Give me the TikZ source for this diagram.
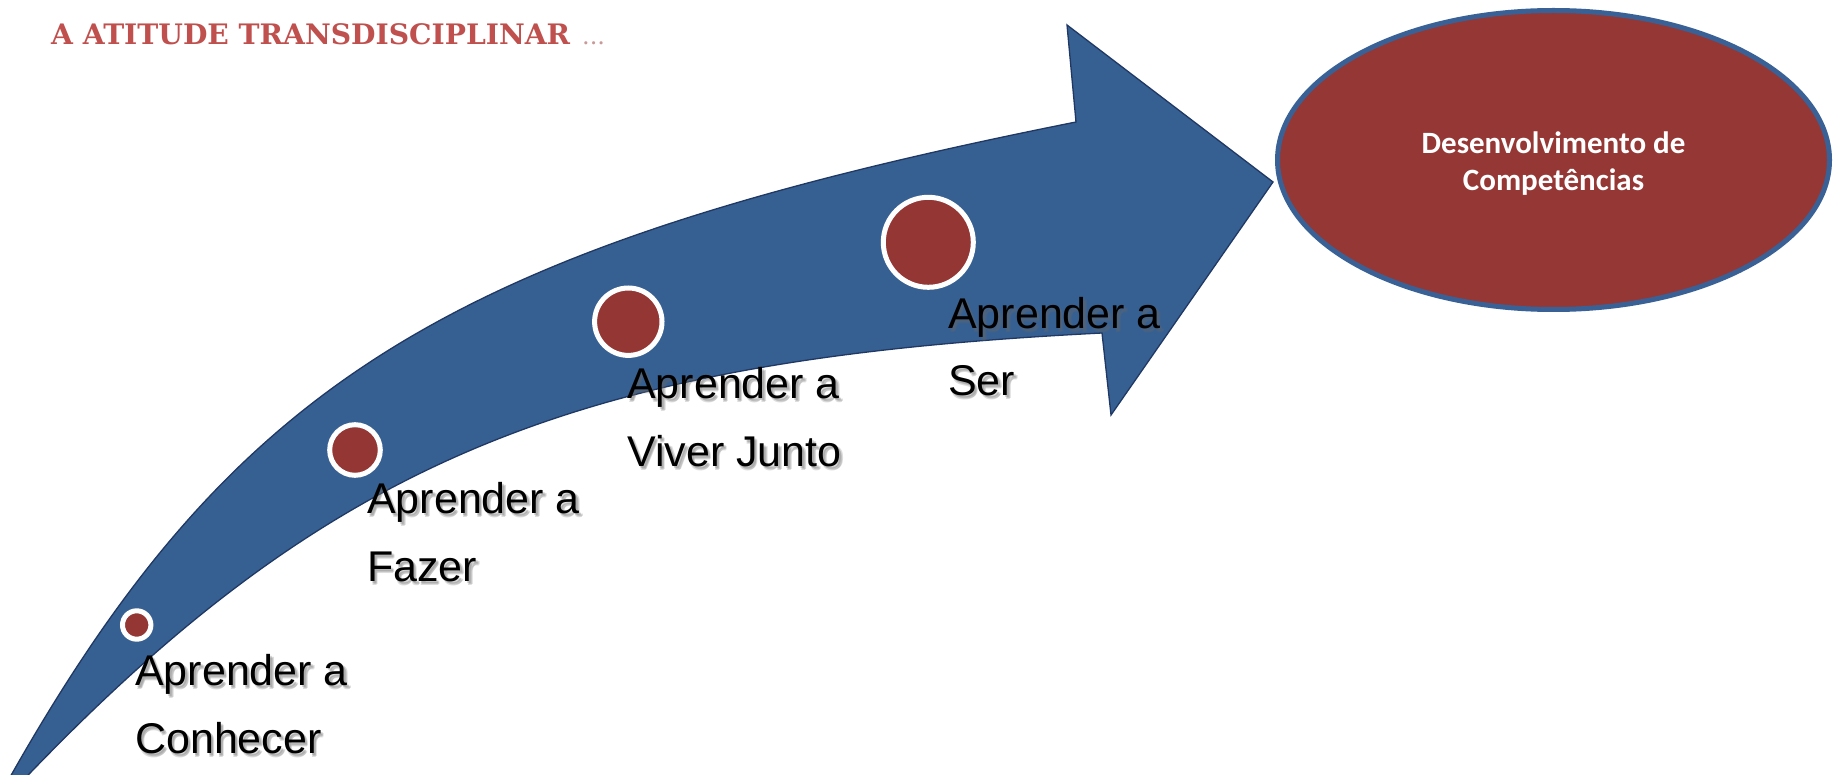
\documentclass[tikz,border=0pt]{standalone}
\usepackage{fontspec}
\setmainfont{Liberation Sans}
\newfontfamily\titlefont{DejaVu Serif}
\newfontfamily\goalfont{Carlito}
\usetikzlibrary{shapes.geometric}
\definecolor{arrowblue}{HTML}{376092}
\definecolor{arrowedge}{HTML}{1F3864}
\definecolor{dotred}{HTML}{943634}
\definecolor{goalred}{HTML}{953735}
\definecolor{goaledge}{HTML}{3A6195}
\definecolor{titlered}{HTML}{C0504D}
\definecolor{dotsgray}{HTML}{C99A98}
\newcommand\steplabel[4]{%
  \node[lblshadow] (#1s1) at ({#2+2},{#3+2}) {#4};
  \node[lblshadow] (#1s2) at ({#2+3.5},{#3+3.5}) {#4};
  \node[lblshadow] (#1s3) at ({#2+2.5},{#3+4}) {#4};
  \node[lbltext] (#1) at (#2,#3) {#4};}
\begin{document}
\begin{tikzpicture}[x=1pt,y=-1pt,
  stepdot/.style={circle, fill=dotred, draw=white, line width=5pt, inner sep=0pt},
  lbltext/.style={anchor=base west, inner sep=0pt, font=\fontsize{43}{49}\selectfont, text=black},
  lblshadow/.style={lbltext, text=black!60, opacity=0.22},
  goalnode/.style={ellipse, fill=goalred, draw=goaledge, line width=5pt, inner sep=0pt},
  goaltext/.style={align=center, text=white, inner sep=0pt,
    font=\goalfont\bfseries\fontsize{31}{37}\selectfont},
  titlenode/.style={anchor=base west, inner sep=0pt, text=titlered,
    font=\titlefont\bfseries\fontsize{28.2}{30}\selectfont}
]
\useasboundingbox (0,0) rectangle (1835,775);
\clip (0,0) rectangle (1835,775);
\fill[white] (0,0) rectangle (1835,775);

\coordinate (tailout) at (0,795);
\coordinate (joinout) at (1076,122);
\coordinate (barbtop) at (1067,25);
\coordinate (tip) at (1273,182);
\coordinate (barbbot) at (1111,415);
\coordinate (joinin) at (1102,333);
\coordinate (tailin) at (12,792);

\filldraw[fill=arrowblue, draw=arrowedge, line width=1.3pt, line join=miter]
  (tailout) .. controls (229,383) and (444,248) .. (joinout) -- (barbtop) -- (tip)
  -- (barbbot) -- (joinin) .. controls (584,359) and (332,453) .. (tailin) -- cycle;

\node[stepdot, minimum size=28.4pt] (c1) at (136.7,625) {};
\node[stepdot, minimum size=50.6pt] (c2) at (355,450) {};
\node[stepdot, minimum size=67.4pt] (c3) at (628.3,321.7) {};
\node[stepdot, minimum size=90pt] (c4) at (928.3,242.3) {};

\node[goalnode, minimum width=552pt, minimum height=299pt] (goal) at (1553.5,160) {};
\node[goaltext] (goaltxt) at (1553.5,164) {Desenvolvimento de\\Competências};

\node[titlenode] (title) at (51,45)
  {A ATITUDE TRANSDISCIPLINAR\hspace{12pt}{\color{dotsgray}\mdseries\fontsize{24}{24}\selectfont...}};

\steplabel{l1a}{135}{685}{Aprender a}
\steplabel{l1b}{135}{753}{Conhecer}
\steplabel{l2a}{367}{513}{Aprender a}
\steplabel{l2b}{367}{581}{Fazer}
\steplabel{l3a}{627}{398}{Aprender a}
\steplabel{l3b}{627}{466}{Viver Junto}
\steplabel{l4a}{948}{328}{Aprender a}
\steplabel{l4b}{948}{395}{Ser}
\end{tikzpicture}
\end{document}
